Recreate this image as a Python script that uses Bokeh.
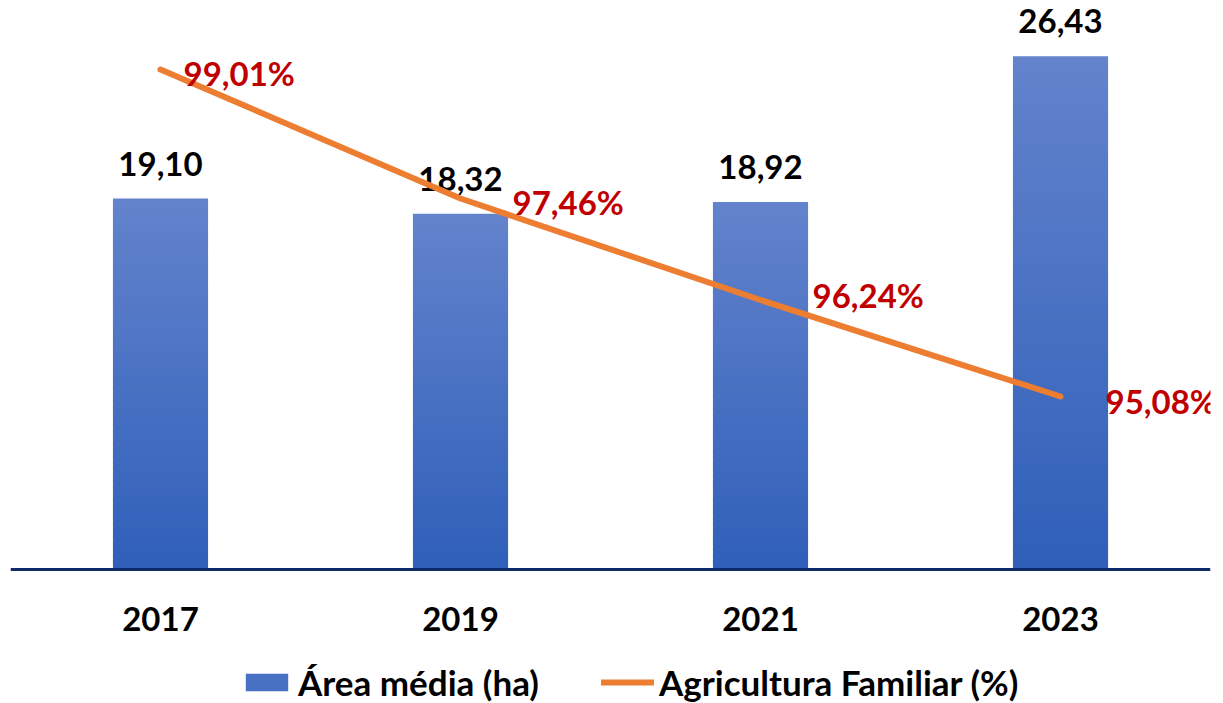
from bokeh.plotting import figure
from bokeh.models import ColumnDataSource, Range1d, Legend, LegendItem, FactorRange, Span
from bokeh.embed import file_html
from bokeh.resources import INLINE
from bokeh.core.properties import value

years = ["2017", "2019", "2021", "2023"]
area_media = [19.10, 18.32, 18.92, 26.43]
agri_familiar = [99.01, 97.46, 96.24, 95.08]

area_labels = [f"{v:.2f}".replace(".", ",") for v in area_media]
agri_labels = [f"{v:.2f}".replace(".", ",") + "%" for v in agri_familiar]

FONT = "Lato"
TOP = (99, 131, 204)
BOT = (47, 95, 185)
N = 60

p = figure(x_range=FactorRange(*years, range_padding=0), y_range=Range1d(-6.90, 29.30),
           frame_width=1200, frame_height=703, output_backend="svg",
           toolbar_location=None, x_axis_type=None, y_axis_type=None,
           min_border_left=10, min_border_right=8, min_border_top=0, min_border_bottom=0)
p.extra_y_ranges = {"pct": Range1d(91.39, 99.84)}

# gradient bars: overlapping slices derived from each bar value
xs, bots, tops, cols = [], [], [], []
for yr, v in zip(years, area_media):
    for k in range(N):
        f0 = k / N
        f1 = min(1.0, (k + 1.6) / N)
        t = (k + 0.5) / N  # 0 bottom -> 1 top
        c = tuple(int(round(BOT[i] + (TOP[i] - BOT[i]) * t)) for i in range(3))
        xs.append(yr)
        bots.append(v * f0)
        tops.append(v * f1)
        cols.append("#%02x%02x%02x" % c)
bar_src = ColumnDataSource(dict(x=xs, bottom=bots, top=tops, color=cols))
bars = p.vbar(x="x", bottom="bottom", top="top", width=0.317, source=bar_src,
              fill_color="color", line_color=None)

# baseline (category axis line)
p.add_layout(Span(location=0, dimension="width", line_color="#0f2a66", line_width=3))

# category labels
p.text(x=years, y=[0] * len(years), text=years, text_align="center",
       text_baseline="middle", y_offset=49, text_font=value(FONT),
       text_font_style="bold", text_font_size="33px", text_color="#000000")

# bar labels
p.text(x=years, y=area_media, text=area_labels, text_align="center",
       text_baseline="middle", y_offset=-35, text_font=value(FONT),
       text_font_style="bold", text_font_size="33px", text_color="#000000")

# line
line = p.line(x=years, y=agri_familiar, y_range_name="pct", line_color="#ED7D31",
              line_width=6, line_cap="round", line_join="round")

label_dx = [23, 52, 52, 45]
label_dy = [3, 3, -5, 4]
p.text(x=years, y=agri_familiar, text=agri_labels, y_range_name="pct",
       text_align="left", text_baseline="middle", x_offset=label_dx, y_offset=label_dy,
       text_font=value(FONT), text_font_style="bold", text_font_size="33px",
       text_color="#C00000")

p.xgrid.grid_line_color = None
p.ygrid.grid_line_color = None
p.outline_line_color = None

legend = Legend(items=[LegendItem(label="Área média (ha)", renderers=[bars], index=N // 2),
                       LegendItem(label="Agricultura Familiar (%)", renderers=[line])],
                orientation="horizontal", location=(230, 0))
legend.glyph_width = 53
legend.glyph_height = 22
legend.label_standoff = 5
legend.spacing = 62
legend.padding = 0
legend.margin = 0
legend.border_line_color = None
legend.background_fill_alpha = 0
legend.label_text_font = FONT
legend.label_text_font_style = "bold"
legend.label_text_font_size = "35px"
legend.label_text_color = "#000000"
p.add_layout(legend, "center")

open("out.html", "w").write(file_html(p, INLINE))
